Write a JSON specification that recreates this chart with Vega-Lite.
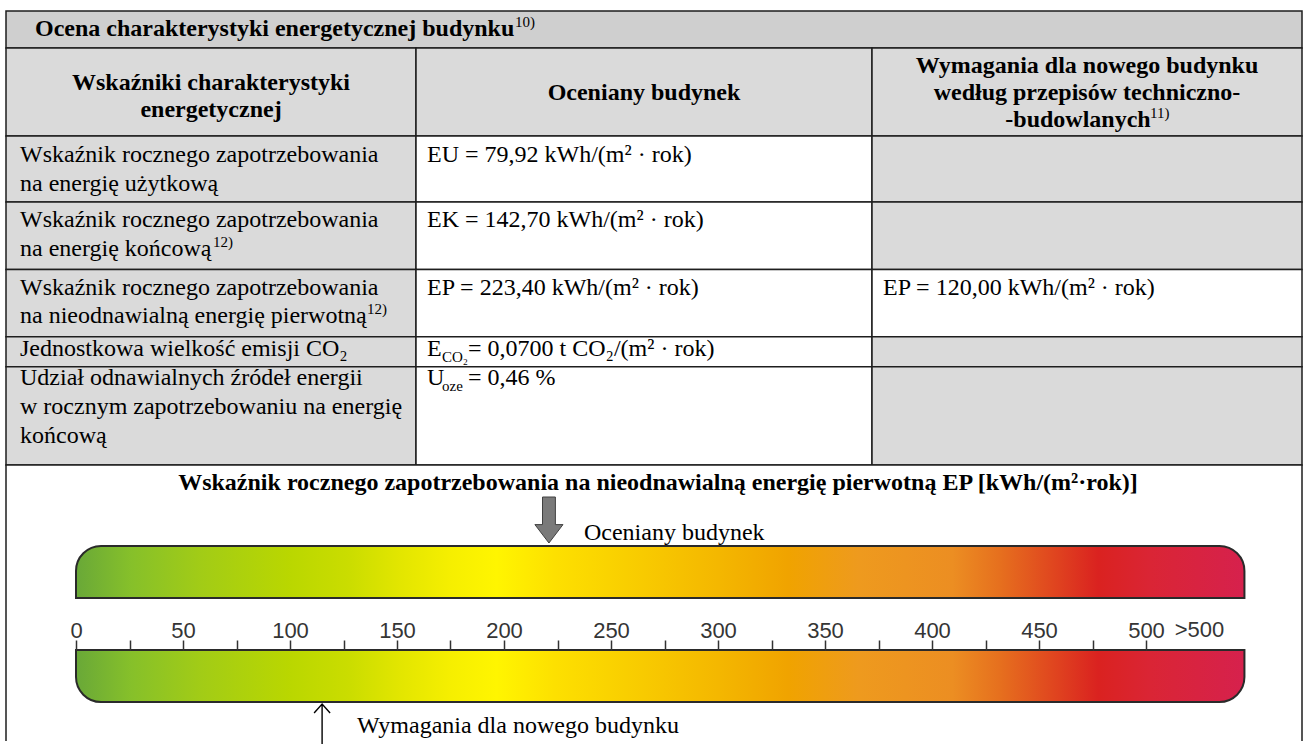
{
  "$schema": "https://vega.github.io/schema/vega-lite/v6.json",
  "width": 1305,
  "height": 744,
  "autosize": {"type": "fit", "contains": "padding"},
  "padding": 0,
  "background": "white",
  "config": {"view": {"stroke": null}},
  "datasets": {
    "cells": [
      {"c0": 0, "c1": 3, "r0": 0, "r1": 1, "shade": "title"},
      {"c0": 0, "c1": 1, "r0": 1, "r1": 2, "shade": "gray"},
      {"c0": 1, "c1": 2, "r0": 1, "r1": 2, "shade": "gray"},
      {"c0": 2, "c1": 3, "r0": 1, "r1": 2, "shade": "gray"},
      {"c0": 0, "c1": 1, "r0": 2, "r1": 3, "shade": "gray"},
      {"c0": 1, "c1": 2, "r0": 2, "r1": 3, "shade": "white"},
      {"c0": 2, "c1": 3, "r0": 2, "r1": 3, "shade": "gray"},
      {"c0": 0, "c1": 1, "r0": 3, "r1": 4, "shade": "gray"},
      {"c0": 1, "c1": 2, "r0": 3, "r1": 4, "shade": "white"},
      {"c0": 2, "c1": 3, "r0": 3, "r1": 4, "shade": "gray"},
      {"c0": 0, "c1": 1, "r0": 4, "r1": 5, "shade": "gray"},
      {"c0": 1, "c1": 2, "r0": 4, "r1": 5, "shade": "white"},
      {"c0": 2, "c1": 3, "r0": 4, "r1": 5, "shade": "white"},
      {"c0": 0, "c1": 1, "r0": 5, "r1": 6, "shade": "gray"},
      {"c0": 1, "c1": 2, "r0": 5, "r1": 6, "shade": "white"},
      {"c0": 2, "c1": 3, "r0": 5, "r1": 6, "shade": "gray"},
      {"c0": 0, "c1": 1, "r0": 6, "r1": 7, "shade": "gray"},
      {"c0": 1, "c1": 2, "r0": 6, "r1": 7, "shade": "white"},
      {"c0": 2, "c1": 3, "r0": 6, "r1": 7, "shade": "gray"},
      {"c0": 0, "c1": 3, "r0": 7, "r1": 8, "shade": "white"}
    ],
    "bars": [
      {"part": "upper", "from": 0, "to": 546},
      {"part": "lower", "from": 0, "to": 546}
    ],
    "pointers": [
      {"who": "building", "ep": 221, "ys": 23, "label": "Oceniany budynek", "lys": 24},
      {"who": "requirement", "ep": 115, "ys": 26, "label": "Wymagania dla nowego budynku", "lys": 27}
    ],
    "overflow": [
      {"ep": 525, "label": ">500", "ys": 25}
    ],
    "texts": [
      {"t": "Ocena charakterystyki energetycznej budynku", "st": "bl", "xs": 1, "ys": 1},
      {"t": "10)", "st": "sup", "xs": 8, "ys": 0},
      {"t": "Wskaźniki charakterystyki", "st": "bc", "xs": 2, "ys": 3},
      {"t": "energetycznej", "st": "bc", "xs": 2, "ys": 5},
      {"t": "Oceniany budynek", "st": "bc", "xs": 9, "ys": 4},
      {"t": "Wymagania dla nowego budynku", "st": "bc", "xs": 13, "ys": 2},
      {"t": "według przepisów techniczno-", "st": "bc", "xs": 13, "ys": 4},
      {"t": "-budowlanych", "st": "bc", "xs": 12, "ys": 7},
      {"t": "11)", "st": "sup", "xs": 14, "ys": 6},
      {"t": "Wskaźnik rocznego zapotrzebowania", "st": "n", "xs": 0, "ys": 8},
      {"t": "na energię użytkową", "st": "n", "xs": 0, "ys": 9},
      {"t": "EU = 79,92 kWh/(m² · rok)", "st": "n", "xs": 5, "ys": 8},
      {"t": "Wskaźnik rocznego zapotrzebowania", "st": "n", "xs": 0, "ys": 10},
      {"t": "na energię końcową", "st": "n", "xs": 0, "ys": 12},
      {"t": "12)", "st": "sup", "xs": 3, "ys": 11},
      {"t": "EK = 142,70 kWh/(m² · rok)", "st": "n", "xs": 5, "ys": 10},
      {"t": "Wskaźnik rocznego zapotrzebowania", "st": "n", "xs": 0, "ys": 13},
      {"t": "na nieodnawialną energię pierwotną", "st": "n", "xs": 0, "ys": 15},
      {"t": "12)", "st": "sup", "xs": 4, "ys": 14},
      {"t": "EP = 223,40 kWh/(m² · rok)", "st": "n", "xs": 5, "ys": 13},
      {"t": "EP = 120,00 kWh/(m² · rok)", "st": "n", "xs": 11, "ys": 13},
      {"t": "Jednostkowa wielkość emisji CO₂", "st": "n", "xs": 0, "ys": 16},
      {"t": "E", "st": "n", "xs": 5, "ys": 16},
      {"t": "CO₂", "st": "sub", "xs": 6, "ys": 17},
      {"t": "= 0,0700 t CO₂/(m² · rok)", "st": "n", "xs": 7, "ys": 16},
      {"t": "Udział odnawialnych źródeł energii", "st": "n", "xs": 0, "ys": 18},
      {"t": "w rocznym zapotrzebowaniu na energię", "st": "n", "xs": 0, "ys": 20},
      {"t": "końcową", "st": "n", "xs": 0, "ys": 21},
      {"t": "U", "st": "n", "xs": 5, "ys": 18},
      {"t": "oze", "st": "sub", "xs": 6, "ys": 19},
      {"t": "= 0,46 %", "st": "n", "xs": 7, "ys": 18},
      {"t": "Wskaźnik rocznego zapotrzebowania na nieodnawialną energię pierwotną EP [kWh/(m²·rok)]", "st": "bc", "xs": 10, "ys": 22}
    ]
  },
  "resolve": {"scale": {"x": "independent", "y": "independent", "fill": "independent"}},
  "layer": [
    {
      "data": {"name": "cells"},
      "mark": {"type": "rect", "stroke": "#1e1e1e", "strokeWidth": 1.5, "clip": true},
      "encoding": {
        "x": {"field": "c0", "type": "quantitative", "scale": {"domain": [0, 1, 2, 3], "range": [6, 416, 872, 1302], "nice": false, "zero": false}, "axis": null},
        "x2": {"field": "c1"},
        "y": {"field": "r0", "type": "quantitative", "scale": {"domain": [0, 1, 2, 3, 4, 5, 6, 7, 8], "range": [11, 48, 136, 202, 269.5, 336.7, 366.7, 465, 770], "nice": false, "zero": false}, "axis": null},
        "y2": {"field": "r1"},
        "fill": {"field": "shade", "type": "nominal", "scale": {"domain": ["title", "gray", "white"], "range": ["#cfcfcf", "#dadada", "#ffffff"]}, "legend": null}
      }
    },
    {
      "data": {"name": "bars"},
      "transform": [{"filter": "datum.part === 'upper'"}],
      "mark": {"type": "rect", "stroke": "#2a2a2a", "strokeWidth": 2, "cornerRadiusTopLeft": 25, "cornerRadiusTopRight": 25,
        "fill": {"gradient": "linear", "x1": 0, "y1": 0, "x2": 1, "y2": 0, "stops": [
          {"offset": 0, "color": "#69a838"}, {"offset": 0.047, "color": "#86c02a"}, {"offset": 0.107, "color": "#a2cc16"},
          {"offset": 0.184, "color": "#bad700"}, {"offset": 0.235, "color": "#cbdd00"}, {"offset": 0.278, "color": "#e3e600"},
          {"offset": 0.321, "color": "#f6ef00"}, {"offset": 0.36, "color": "#fff500"}, {"offset": 0.41, "color": "#fde000"},
          {"offset": 0.47, "color": "#f9cf00"}, {"offset": 0.55, "color": "#f4b700"}, {"offset": 0.61, "color": "#f0a300"},
          {"offset": 0.67, "color": "#ee9a1e"}, {"offset": 0.75, "color": "#ec8e22"}, {"offset": 0.79, "color": "#e6701e"},
          {"offset": 0.835, "color": "#e0471f"}, {"offset": 0.875, "color": "#da2220"}, {"offset": 0.92, "color": "#da2535"},
          {"offset": 1, "color": "#d6214d"}]}},
      "encoding": {
        "x": {"field": "from", "type": "quantitative", "scale": {"domain": [0, 500], "range": [76, 1146], "nice": false, "zero": false}, "axis": null},
        "x2": {"field": "to"},
        "y": {"field": "part", "type": "nominal", "scale": {"type": "band", "domain": ["upper", "scale", "lower"], "range": [546, 702], "paddingInner": 0, "paddingOuter": 0}, "axis": null}
      }
    },
    {
      "data": {"name": "bars"},
      "transform": [{"filter": "datum.part === 'lower'"}],
      "mark": {"type": "rect", "stroke": "#2a2a2a", "strokeWidth": 2, "cornerRadiusBottomLeft": 25, "cornerRadiusBottomRight": 25,
        "fill": {"gradient": "linear", "x1": 0, "y1": 0, "x2": 1, "y2": 0, "stops": [
          {"offset": 0, "color": "#69a838"}, {"offset": 0.047, "color": "#86c02a"}, {"offset": 0.107, "color": "#a2cc16"},
          {"offset": 0.184, "color": "#bad700"}, {"offset": 0.235, "color": "#cbdd00"}, {"offset": 0.278, "color": "#e3e600"},
          {"offset": 0.321, "color": "#f6ef00"}, {"offset": 0.36, "color": "#fff500"}, {"offset": 0.41, "color": "#fde000"},
          {"offset": 0.47, "color": "#f9cf00"}, {"offset": 0.55, "color": "#f4b700"}, {"offset": 0.61, "color": "#f0a300"},
          {"offset": 0.67, "color": "#ee9a1e"}, {"offset": 0.75, "color": "#ec8e22"}, {"offset": 0.79, "color": "#e6701e"},
          {"offset": 0.835, "color": "#e0471f"}, {"offset": 0.875, "color": "#da2220"}, {"offset": 0.92, "color": "#da2535"},
          {"offset": 1, "color": "#d6214d"}]}},
      "encoding": {
        "x": {"field": "from", "type": "quantitative", "scale": {"domain": [0, 500], "range": [76, 1146], "nice": false, "zero": false},
          "axis": {"orient": "top", "offset": -650, "zindex": 2, "values": [0, 25, 50, 75, 100, 125, 150, 175, 200, 225, 250, 275, 300, 325, 350, 375, 400, 425, 450, 475, 500],
            "labelExpr": "datum.value % 50 === 0 ? datum.label : ''", "format": "d", "tickSize": 10, "tickColor": "#333333", "tickWidth": 1.5,
            "domain": false, "grid": false, "labelFont": "Liberation Sans, Arimo, Arial, DejaVu Sans, sans-serif", "labelFontSize": 22, "labelColor": "#353535",
            "labelBaseline": "alphabetic", "labelPadding": 3, "labelFlush": false, "labelOverlap": false, "title": null}},
        "x2": {"field": "to"},
        "y": {"field": "part", "type": "nominal", "scale": {"type": "band", "domain": ["upper", "scale", "lower"], "range": [546, 702], "paddingInner": 0, "paddingOuter": 0}, "axis": null}
      }
    },
    {
      "data": {"name": "overflow"},
      "mark": {"type": "text", "font": "Liberation Sans, Arimo, Arial, DejaVu Sans, sans-serif", "fontSize": 22, "color": "#353535", "align": "center", "baseline": "alphabetic"},
      "encoding": {
        "x": {"field": "ep", "type": "quantitative", "scale": {"domain": [0, 500], "range": [76, 1146], "nice": false, "zero": false}, "axis": null},
        "y": {"field": "ys", "type": "quantitative", "scale": {"domain": [0,1,2,3,4,5,6,7,8,9,10,11,12,13,14,15,16,17,18,19,20,21,22,23,24,25,26,27], "range": [27,36,73,90,100,117,118,127,162,191,227,247,256,295,314,323,356,362,385,391,414,443,490,520,540,637,724,733], "nice": false, "zero": false}, "axis": null},
        "text": {"field": "label"}
      }
    },
    {
      "data": {"name": "pointers"},
      "transform": [{"filter": "datum.who === 'building'"}],
      "mark": {"type": "point", "shape": "M-0.28,-1L0.28,-1L0.28,0.2L0.61,0.2L0,1L-0.61,0.2L-0.28,0.2Z", "size": 2116, "filled": true, "color": "#7a7a7a", "stroke": "#404040", "strokeWidth": 1, "opacity": 1},
      "encoding": {
        "x": {"field": "ep", "type": "quantitative", "scale": {"domain": [0, 500], "range": [76, 1146], "nice": false, "zero": false}, "axis": null},
        "y": {"field": "ys", "type": "quantitative", "scale": {"domain": [0,1,2,3,4,5,6,7,8,9,10,11,12,13,14,15,16,17,18,19,20,21,22,23,24,25,26,27], "range": [27,36,73,90,100,117,118,127,162,191,227,247,256,295,314,323,356,362,385,391,414,443,490,520,540,637,724,733], "nice": false, "zero": false}, "axis": null}
      }
    },
    {
      "data": {"name": "pointers"},
      "transform": [{"filter": "datum.who === 'requirement'"}],
      "mark": {"type": "point", "shape": "M0,-1L0,1M-0.4,-0.55L0,-1L0.4,-0.55", "size": 1600, "filled": false, "stroke": "#000000", "strokeWidth": 1.4, "opacity": 1},
      "encoding": {
        "x": {"field": "ep", "type": "quantitative", "scale": {"domain": [0, 500], "range": [76, 1146], "nice": false, "zero": false}, "axis": null},
        "y": {"field": "ys", "type": "quantitative", "scale": {"domain": [0,1,2,3,4,5,6,7,8,9,10,11,12,13,14,15,16,17,18,19,20,21,22,23,24,25,26,27], "range": [27,36,73,90,100,117,118,127,162,191,227,247,256,295,314,323,356,362,385,391,414,443,490,520,540,637,724,733], "nice": false, "zero": false}, "axis": null}
      }
    },
    {
      "data": {"name": "pointers"},
      "mark": {"type": "text", "font": "Liberation Serif, Tinos, Times New Roman, DejaVu Serif, serif", "fontSize": 24, "color": "#000000", "align": "left", "baseline": "alphabetic", "dx": 35},
      "encoding": {
        "x": {"field": "ep", "type": "quantitative", "scale": {"domain": [0, 500], "range": [76, 1146], "nice": false, "zero": false}, "axis": null},
        "y": {"field": "lys", "type": "quantitative", "scale": {"domain": [0,1,2,3,4,5,6,7,8,9,10,11,12,13,14,15,16,17,18,19,20,21,22,23,24,25,26,27], "range": [27,36,73,90,100,117,118,127,162,191,227,247,256,295,314,323,356,362,385,391,414,443,490,520,540,637,724,733], "nice": false, "zero": false}, "axis": null},
        "text": {"field": "label"}
      }
    },
    {
      "data": {"name": "texts"},
      "transform": [{"filter": "datum.st === 'bl'"}],
      "mark": {"type": "text", "font": "Liberation Serif, Tinos, Times New Roman, DejaVu Serif, serif", "fontSize": 24, "fontWeight": "bold", "color": "#000000", "align": "left", "baseline": "alphabetic"},
      "encoding": {
        "x": {"field": "xs", "type": "quantitative", "scale": {"domain": [0,1,2,3,4,5,6,7,8,9,10,11,12,13,14], "range": [20,35,211,213,367,427,442,468,515,644,658,883,1078,1087,1150], "nice": false, "zero": false}, "axis": null},
        "y": {"field": "ys", "type": "quantitative", "scale": {"domain": [0,1,2,3,4,5,6,7,8,9,10,11,12,13,14,15,16,17,18,19,20,21,22,23,24,25,26,27], "range": [27,36,73,90,100,117,118,127,162,191,227,247,256,295,314,323,356,362,385,391,414,443,490,520,540,637,724,733], "nice": false, "zero": false}, "axis": null},
        "text": {"field": "t"}
      }
    },
    {
      "data": {"name": "texts"},
      "transform": [{"filter": "datum.st === 'bc'"}],
      "mark": {"type": "text", "font": "Liberation Serif, Tinos, Times New Roman, DejaVu Serif, serif", "fontSize": 24, "fontWeight": "bold", "color": "#000000", "align": "center", "baseline": "alphabetic"},
      "encoding": {
        "x": {"field": "xs", "type": "quantitative", "scale": {"domain": [0,1,2,3,4,5,6,7,8,9,10,11,12,13,14], "range": [20,35,211,213,367,427,442,468,515,644,658,883,1078,1087,1150], "nice": false, "zero": false}, "axis": null},
        "y": {"field": "ys", "type": "quantitative", "scale": {"domain": [0,1,2,3,4,5,6,7,8,9,10,11,12,13,14,15,16,17,18,19,20,21,22,23,24,25,26,27], "range": [27,36,73,90,100,117,118,127,162,191,227,247,256,295,314,323,356,362,385,391,414,443,490,520,540,637,724,733], "nice": false, "zero": false}, "axis": null},
        "text": {"field": "t"}
      }
    },
    {
      "data": {"name": "texts"},
      "transform": [{"filter": "datum.st === 'n'"}],
      "mark": {"type": "text", "font": "Liberation Serif, Tinos, Times New Roman, DejaVu Serif, serif", "fontSize": 24, "color": "#000000", "align": "left", "baseline": "alphabetic"},
      "encoding": {
        "x": {"field": "xs", "type": "quantitative", "scale": {"domain": [0,1,2,3,4,5,6,7,8,9,10,11,12,13,14], "range": [20,35,211,213,367,427,442,468,515,644,658,883,1078,1087,1150], "nice": false, "zero": false}, "axis": null},
        "y": {"field": "ys", "type": "quantitative", "scale": {"domain": [0,1,2,3,4,5,6,7,8,9,10,11,12,13,14,15,16,17,18,19,20,21,22,23,24,25,26,27], "range": [27,36,73,90,100,117,118,127,162,191,227,247,256,295,314,323,356,362,385,391,414,443,490,520,540,637,724,733], "nice": false, "zero": false}, "axis": null},
        "text": {"field": "t"}
      }
    },
    {
      "data": {"name": "texts"},
      "transform": [{"filter": "datum.st === 'sup'"}],
      "mark": {"type": "text", "font": "Liberation Serif, Tinos, Times New Roman, DejaVu Serif, serif", "fontSize": 15, "color": "#000000", "align": "left", "baseline": "alphabetic"},
      "encoding": {
        "x": {"field": "xs", "type": "quantitative", "scale": {"domain": [0,1,2,3,4,5,6,7,8,9,10,11,12,13,14], "range": [20,35,211,213,367,427,442,468,515,644,658,883,1078,1087,1150], "nice": false, "zero": false}, "axis": null},
        "y": {"field": "ys", "type": "quantitative", "scale": {"domain": [0,1,2,3,4,5,6,7,8,9,10,11,12,13,14,15,16,17,18,19,20,21,22,23,24,25,26,27], "range": [27,36,73,90,100,117,118,127,162,191,227,247,256,295,314,323,356,362,385,391,414,443,490,520,540,637,724,733], "nice": false, "zero": false}, "axis": null},
        "text": {"field": "t"}
      }
    },
    {
      "data": {"name": "texts"},
      "transform": [{"filter": "datum.st === 'sub'"}],
      "mark": {"type": "text", "font": "Liberation Serif, Tinos, Times New Roman, DejaVu Serif, serif", "fontSize": 15, "color": "#000000", "align": "left", "baseline": "alphabetic"},
      "encoding": {
        "x": {"field": "xs", "type": "quantitative", "scale": {"domain": [0,1,2,3,4,5,6,7,8,9,10,11,12,13,14], "range": [20,35,211,213,367,427,442,468,515,644,658,883,1078,1087,1150], "nice": false, "zero": false}, "axis": null},
        "y": {"field": "ys", "type": "quantitative", "scale": {"domain": [0,1,2,3,4,5,6,7,8,9,10,11,12,13,14,15,16,17,18,19,20,21,22,23,24,25,26,27], "range": [27,36,73,90,100,117,118,127,162,191,227,247,256,295,314,323,356,362,385,391,414,443,490,520,540,637,724,733], "nice": false, "zero": false}, "axis": null},
        "text": {"field": "t"}
      }
    }
  ]
}
